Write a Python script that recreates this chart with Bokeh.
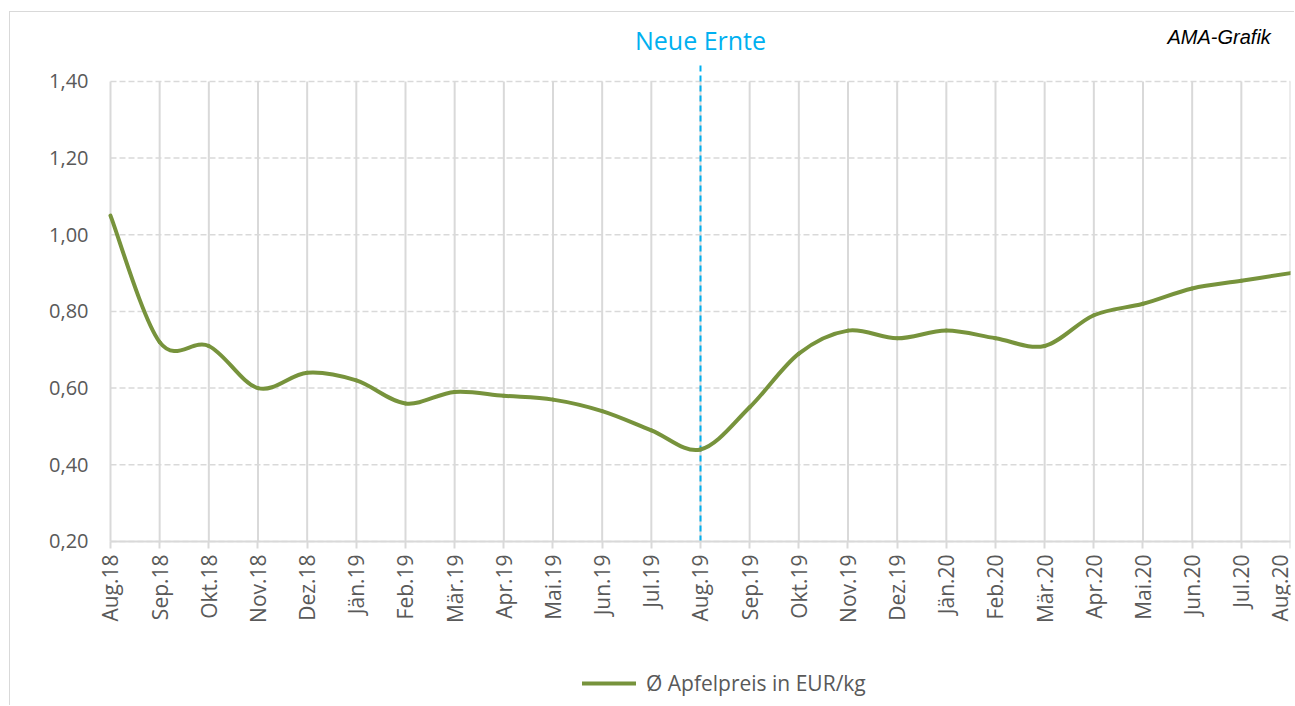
import numpy as np
from bokeh.plotting import figure
from bokeh.models import Range1d, FixedTicker, Label, Legend, LegendItem
from bokeh.embed import file_html
from bokeh.resources import INLINE

# ---------------- data ----------------
months = ["Aug.18", "Sep.18", "Okt.18", "Nov.18", "Dez.18", "Jän.19", "Feb.19",
          "Mär.19", "Apr.19", "Mai.19", "Jun.19", "Jul.19", "Aug.19", "Sep.19",
          "Okt.19", "Nov.19", "Dez.19", "Jän.20", "Feb.20", "Mär.20", "Apr.20",
          "Mai.20", "Jun.20", "Jul.20", "Aug.20"]
prices = [1.05, 0.72, 0.71, 0.60, 0.64, 0.62, 0.56, 0.59, 0.58, 0.57, 0.54, 0.49,
          0.44, 0.55, 0.69, 0.75, 0.73, 0.75, 0.73, 0.71, 0.79, 0.82, 0.86, 0.88, 0.90]
y_ticks = [0.20, 0.40, 0.60, 0.80, 1.00, 1.20, 1.40]
y_tick_labels = ["0,20", "0,40", "0,60", "0,80", "1,00", "1,20", "1,40"]
harvest_month = "Aug.19"
harvest_label = "Neue Ernte"
series_name = "Ø Apfelpreis in EUR/kg"
source_note = "AMA-Grafik"

# ---------------- styles ----------------
GREEN = "#77933c"
BLUE = "#00b0f0"
GRID = "#d9d9d9"
TXT = "#595959"
FONT = "Open Sans"

x = np.arange(len(months), dtype=float)
yv = np.array(prices, dtype=float)
n = len(months)

# smoothed line (Bezier segments through the data points, like a spreadsheet's smoothed line)
xp = np.concatenate([[x[0]], x, [x[-1]]])
yp = np.concatenate([[yv[0]], yv, [yv[-1]]])
cx0 = x[:-1] + (x[1:] - xp[:-3]) / 6.0
cy0 = yv[:-1] + (yv[1:] - yp[:-3]) / 6.0
cx1 = x[1:] - (xp[3:] - x[:-1]) / 6.0
cy1 = yv[1:] - (yp[3:] - yv[:-1]) / 6.0

# the frame covers the whole drawing area; the x axis is pinned at the lowest tick
x_left = -0.244
y_top = 1.559
y_bottom = -0.2306
marker_top = 1.447
label_y = 1.507
note_y = 1.515

p = figure(width=1285, height=694, output_backend="svg", toolbar_location=None,
           x_range=Range1d(x_left, n - 1), y_range=Range1d(y_bottom, y_top),
           min_border_left=88, min_border_right=5, min_border_top=8,
           min_border_bottom=0, background_fill_color="white",
           border_fill_color="white",
           styles={"border-left": "1px solid #d9d9d9", "border-top": "1px solid #d9d9d9",
                   "margin-left": "9px", "margin-top": "11px"})
p.outline_line_color = None

# grids (drawn over the category span only)
p.xgrid.visible = False
p.ygrid.visible = False
p.segment(x0=[x[0]] * len(y_ticks), y0=y_ticks, x1=[x[-1]] * len(y_ticks), y1=y_ticks,
          line_color=GRID, line_width=1.5, line_dash="6 3", level="underlay")
p.segment(x0=x, y0=[y_ticks[0]] * n, x1=x, y1=[y_ticks[-1]] * n,
          line_color=GRID, line_width=2, level="underlay")

# axes
p.xaxis.fixed_location = y_ticks[0]
p.xaxis.bounds = (x[0], x[-1])
p.xaxis.ticker = FixedTicker(ticks=list(x))
p.xaxis.major_label_overrides = {float(i): m for i, m in enumerate(months)}
p.xaxis.major_label_orientation = np.pi / 2
p.xaxis.axis_line_color = GRID
p.xaxis.axis_line_width = 2
p.xaxis.major_tick_line_color = GRID
p.xaxis.major_tick_line_width = 2
p.xaxis.major_tick_out = 7
p.xaxis.major_tick_in = 0
p.xaxis.minor_tick_line_color = None
p.xaxis.major_label_standoff = 6
p.xaxis.major_label_text_font = FONT
p.xaxis.major_label_text_font_size = "21px"
p.xaxis.major_label_text_color = TXT

p.yaxis.ticker = FixedTicker(ticks=y_ticks)
p.yaxis.major_label_overrides = {t: l for t, l in zip(y_ticks, y_tick_labels)}
p.yaxis.axis_line_color = None
p.yaxis.major_tick_line_color = None
p.yaxis.minor_tick_line_color = None
p.yaxis.major_label_standoff = 4
p.yaxis.major_label_text_font = FONT
p.yaxis.major_label_text_font_size = "20px"
p.yaxis.major_label_text_color = TXT

# harvest marker
hi = float(months.index(harvest_month))
p.segment(x0=[hi], y0=[y_ticks[0]], x1=[hi], y1=[marker_top],
          line_color=BLUE, line_width=2, line_dash="6 4")
p.add_layout(Label(x=hi, y=label_y, text=harvest_label, text_align="center",
                   text_baseline="middle", text_color=BLUE, text_font=FONT,
                   text_font_size="25px"))
p.add_layout(Label(x=23.6, y=note_y, text=source_note, text_align="right",
                   text_baseline="middle", text_color="black",
                   text_font="Liberation Sans", text_font_style="italic",
                   text_font_size="20px"))

# series
r = p.bezier(x0=x[:-1], y0=yv[:-1], x1=x[1:], y1=yv[1:],
             cx0=cx0, cy0=cy0, cx1=cx1, cy1=cy1,
             line_color=GREEN, line_width=4, line_cap="round")

legend = Legend(items=[LegendItem(label=series_name, renderers=[r])],
                location=(484, 9), orientation="horizontal",
                padding=0, margin=0, spacing=0,
                glyph_width=54, glyph_height=20, label_standoff=10,
                label_text_font=FONT, label_text_font_size="21px",
                label_text_color=TXT, border_line_color=None,
                background_fill_alpha=0)
p.add_layout(legend, "center")

open("out.html", "w").write(file_html(p, INLINE))
